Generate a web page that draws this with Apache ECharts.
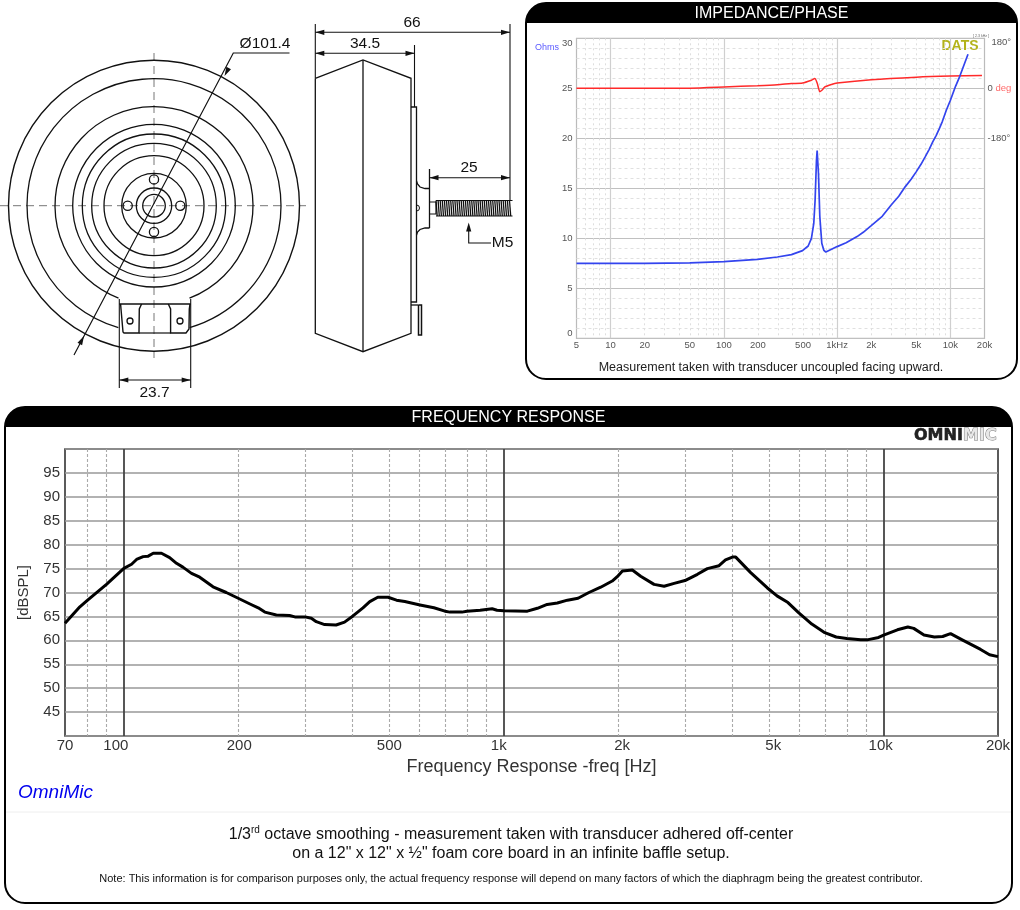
<!DOCTYPE html>
<html><head><meta charset="utf-8">
<style>html,body{margin:0;padding:0;background:#fff}#c{width:1020px;height:910px}</style>
<script src="https://cdn.jsdelivr.net/npm/echarts@6/dist/echarts.min.js"></script>
</head><body><div id="c"></div>
<script>
// ---- Frequency response data
const frFreq=[70,76.6,80,90,100,104.8,108,112.4,115.9,119.5,125.6,132,137.6,143,150.7,158.4,171.7,186,200,214.8,225.8,235,252,273,282,300,311.6,321,337.7,362,381,401,426,444,466,496,522,549,602,655,700,722,776,800,867,932,960,1000,1154,1226,1301,1384,1471,1569,1676,1800,1930,2000,2053,2180,2293,2487,2643,2809,3000,3235,3435,3687,3835,4000,4080,4460,4935,5240,5600,5970,6470,7000,7500,8000,8700,9050,9700,10000,10870,11580,12000,12770,13600,14300,15000,16100,18000,19000,20000];
const frSpl=[63.55,67,68.3,71.7,75.05,75.9,76.9,77.5,77.6,78.2,78.2,77.3,76.1,75.3,74,73.2,71.2,70,68.8,67.6,66.8,65.9,65.3,65.2,64.9,64.9,64.6,63.9,63.3,63.2,63.8,65.1,66.8,68.1,69,69,68.4,68.1,67.4,66.8,66.1,65.9,65.9,66.1,66.3,66.6,66.3,66.2,66.1,66.7,67.5,67.8,68.4,68.8,70,71.1,72.4,73.5,74.5,74.7,73.4,71.7,71.3,71.9,72.5,73.8,75,75.6,76.8,77.4,77.4,74.2,71,69.3,67.9,65.8,63.4,61.6,60.7,60.4,60.1,60.1,60.6,61.1,62.2,62.8,62.5,61.1,60.7,60.8,61.4,60.1,58.1,57,56.6];
const frTicks=[70,100,200,500,1000,2000,5000,10000,20000];
const frTickLabels=['70','100','200','500','1k','2k','5k','10k','20k'];
const frMinorLines=[80,90,200,300,400,500,600,700,800,900,2000,3000,4000,5000,6000,7000,8000,9000];
const frDecades=[100,1000,10000];
// ---- Impedance / phase data
const zFreq=[5,10,20,50,100,198,297,395,495,555,593,622,639,657,666,684,703,732,763,795,1000,1200,1500,1700,2000,2500,3000,3500,4000,4500,5000,5500,6000,6500,7000,7500,8000,8500,9200,10000,11100,12100,14300];
const zOhm=[7.5,7.5,7.5,7.55,7.67,7.9,8.13,8.37,8.77,9.23,10,11.5,13.8,17.8,18.77,16.5,12.2,9.5,8.8,8.63,9.17,9.55,10.17,10.6,11.27,12.2,13.33,14.2,15.17,15.9,16.67,17.4,18.17,18.9,19.67,20.3,21,21.7,22.8,23.8,25.2,26.2,28.4];
const phFreq=[5,20,50,100,198,297,395,495,593,635,666,684,703,742,778,891,1000,2000,5000,10000,19000];
const phDeg=[0,0,0.6,4.8,9.6,13,17,19,29,35,19,2,-12,-5,5,14,19,31,40,44,46];
const zTicks=[5,10,20,50,100,200,500,1000,2000,5000,10000,20000];
const zTickLabels=['5','10','20','50','100','200','500','1kHz','2k','5k','10k','20k'];
const zMinorLines=[6,7,8,9,20,30,40,50,60,70,80,90,200,300,400,500,600,700,800,900,2000,3000,4000,5000,6000,7000,8000,9000];
const zDecades=[10,100,1000,10000];
const phTicks=[180,0,-180];

const FONT='"Liberation Sans",Arial,sans-serif';
const zip=(a,b)=>a.map((v,i)=>[v,b[i]]);
// horizontal nudge of each frequency-response tick label, px
const frLabelShift=[0,-8,1,0,-5,4,4,-3,0];
const frRich={};
frLabelShift.forEach((s,i)=>{frRich['l'+i]={fontFamily:FONT,fontSize:15,color:'#333',padding:s<0?[0,-2*s,0,0]:[0,0,0,2*s]};});

// ---- Line-drawing helpers (illustration and panels, not data)
const g=[];
const INK='#111';
const W0=1.3;
const line=(pts,w,extra)=>g.push({type:'polyline',silent:true,shape:{points:pts},style:Object.assign({stroke:INK,lineWidth:w||W0,fill:null},extra||{})});
const circ=(cx,cy,r,w)=>g.push({type:'circle',silent:true,shape:{cx,cy,r},style:{stroke:INK,lineWidth:w||W0,fill:null}});
const arcGap=(cx,cy,r,gapDeg)=>{const a=gapDeg*Math.PI/180;g.push({type:'arc',silent:true,shape:{cx,cy,r,startAngle:Math.PI/2+a,endAngle:Math.PI*2.5-a,clockwise:true},style:{stroke:INK,lineWidth:W0,fill:null}});};
const arrow=(x,y,dx,dy,len,wd)=>{const L=len||9,W=wd||2.6;g.push({type:'polygon',silent:true,shape:{points:[[x,y],[x-dx*L-dy*W,y-dy*L+dx*W],[x-dx*L+dy*W,y-dy*L-dx*W]]},style:{fill:INK}});};
const txt=(x,y,s,size,extra)=>g.push({type:'text',silent:true,x,y,style:Object.assign({text:s,fontFamily:FONT,fontSize:size,fill:'#111',align:'center',verticalAlign:'middle'},extra||{})});
const dash={lineDash:[8,5],stroke:'#777',lineWidth:1};

// panels
const panel=(x,y,w,h,r,head,title,ty)=>{
  g.push({type:'rect',silent:true,z:-1,shape:{x,y,width:w,height:head,r:[r,r,0,0]},style:{fill:'#000'}});
  g.push({type:'rect',silent:true,shape:{x,y,width:w,height:h,r:r},style:{fill:null,stroke:'#000',lineWidth:2}});
  txt(x+w/2,ty,title,16,{fill:'#fff'});
};
panel(526,3,491,376,20,20,'IMPEDANCE/PHASE',13.5);
panel(5,407,1007,496,20,20,'FREQUENCY RESPONSE',417.5);

// front view
const cx=154,cy=205.7;
line([[0,cy],[306,cy]],1,dash);
line([[cx,53],[cx,358]],1,dash);
circ(cx,cy,145.5,1.4);
arcGap(cx,cy,127,16.3);
arcGap(cx,cy,99,21);
[81.3,71.7,62.3,50,32.3,17.7,11.3].forEach(r=>circ(cx,cy,r));
[[0,-26.3],[0,26.3],[-26.3,0],[26.3,0]].forEach(o=>circ(cx+o[0],cy+o[1],4.6));
// terminals
line([[119.3,299],[119.3,388]],1.1);line([[190.7,299],[190.7,388]],1.1);
line([[119.3,304],[190.7,304]],1.4);
line([[120.6,304],[121,309],[123,332],[124,333],[139,333],[139.3,309],[141.6,304]],1.4);
line([[168.3,304],[170.6,309],[170.6,333],[186,333],[189,329],[189.3,309],[190,304]],1.4);
line([[139,333],[170.6,333]],1.2);
circ(130,321,3);circ(180,321,3);
// diameter leader
line([[289.5,53],[233.3,53],[74,355]],1.2);
arrow(224.5,76,-0.466,0.885);arrow(84,336,0.466,-0.885);
// 23.7
line([[119.3,380],[190.7,380]],1.1);arrow(119.3,380,-1,0);arrow(190.7,380,1,0);
txt(154.5,393,'23.7',15.5);
txt(265,44,'Ø101.4',15.5);

// side view
line([[315.3,78.3],[363,60],[411,78.3],[411,333.3],[363,351.7],[315.3,333.3],[315.3,78.3]],1.3);
line([[363,60],[363,351.7]],1.3);
line([[315.3,24],[315.3,78]],1.1);line([[510,24],[510,200]],1.1);
line([[315.3,32.3],[510,32.3]],1.1);arrow(315.3,32.3,-1,0);arrow(510,32.3,1,0);
txt(412,22.5,'66',15.5);
line([[414.5,45],[414.5,107]],1.1);
line([[315.3,53.3],[414.5,53.3]],1.1);arrow(315.3,53.3,-1,0);arrow(414.5,53.3,1,0);
txt(365,44,'34.5',15.5);
// plate, flange, screw
line([[411,107],[416.5,107],[416.5,302],[411,302]],1.3);
line([[416.5,181],[417.5,184],[420,187],[425,188.5],[429.5,188.5]],1.3);
line([[416.5,235],[417.5,232],[420,229.5],[425,228],[429.5,228]],1.3);
line([[429.5,169],[429.5,228]],1.3);
line([[429.5,202],[436,202],[436,214],[429.5,214]],1.2);
g.push({type:'arc',silent:true,shape:{cx:416.5,cy:208,r:3,startAngle:-Math.PI/2,endAngle:Math.PI/2},style:{stroke:INK,lineWidth:1,fill:null}});
line([[436,200.5],[512.5,200.5]],1);line([[436,216],[512.5,216]],1);
for(let t=436;t<=511;t+=2.1) line([[t,200.5],[t+1.2,216]],1.3);
line([[411,305],[418.5,305]],1.3);line([[418.5,305],[421.5,305],[421.5,335],[418.5,335],[418.5,305]],1.5);
line([[429.5,177.7],[510,177.7]],1.1);arrow(429.5,177.7,-1,0);arrow(510,177.7,1,0);
txt(469,168,'25',15.5);
line([[468.7,226],[468.7,243],[491,243]],1.1);arrow(468.7,222.5,0,-1,9,2.6);
txt(502.5,242.5,'M5',15.5);

// impedance annotations
txt(547,47.5,'Ohms',9,{fill:'#5a5aff'});
txt(960,46.5,'DATS',14,{fill:'#b3b31a',fontWeight:'bold'});
txt(981,35.5,'[ 2.3 kHz ]',3.6,{fill:'#666'});
txt(771,367.8,'Measurement taken with transducer uncoupled facing upward.',12.5,{fill:'#222'});

// frequency response annotations
txt(914,436,'OMNI',16,{align:'left',fontFamily:'"DejaVu Sans",sans-serif',fontWeight:'bold',fill:'#222',stroke:'#222',lineWidth:0.6});
txt(963,436,'MIC',16,{align:'left',fontFamily:'"DejaVu Sans",sans-serif',fontWeight:'bold',fill:'#e8e8e8',stroke:'#777',lineWidth:1});
txt(18,792.5,'OmniMic',19,{align:'left',fontStyle:'italic',fill:'#0000ee'});
line([[6,812],[1011,812]],1,{stroke:'#eee'});
g.push({type:'text',silent:true,x:511,y:835,style:{
  rich:{n:{fontFamily:FONT,fontSize:16,fill:'#111',lineHeight:20},s:{fontFamily:FONT,fontSize:10,fill:'#111',verticalAlign:'top',lineHeight:20}},
  text:'{n|1/3}{s|rd}{n| octave smoothing - measurement taken with transducer adhered off-center}',align:'center',verticalAlign:'middle'}});
txt(511,854,'on a 12" x 12" x ½" foam core board in an infinite baffle setup.',16);
txt(511,879,'Note: This information is for comparison purposes only, the actual frequency response will depend on many factors of which the diaphragm being the greatest contributor.',11);

const hiddenX=(grid,min,max,vals,color,width,type)=>({type:'log',logBase:10,gridIndex:grid,min,max,
  axisLine:{show:false},axisLabel:{show:false},
  axisTick:{show:false,customValues:vals},
  splitLine:{show:true,lineStyle:{color,width,type}},minorSplitLine:{show:false}});

const option={
  animation:false,
  graphic:{elements:g},
  grid:[
    {left:65,top:449,width:933,height:287,show:true,borderColor:'#333',borderWidth:1.6,backgroundColor:'transparent'},
    {left:576.5,top:38.3,width:408,height:300,show:true,borderColor:'#bbb',borderWidth:1.2,backgroundColor:'transparent'}
  ],
  xAxis:[
    Object.assign(hiddenX(0,70,20000,frMinorLines,'#aaa',1.1,[3,2]),{
      name:'Frequency Response -freq [Hz]',nameLocation:'middle',nameGap:22,
      nameTextStyle:{fontFamily:FONT,fontSize:18,color:'#333'},
      axisLabel:{show:true,margin:2,customValues:frTicks,rich:frRich,hideOverlap:false,
        formatter:v=>{const i=frTicks.indexOf(v);return i<0?'':'{l'+i+'|'+frTickLabels[i]+'}';}}}),
    hiddenX(0,70,20000,frDecades,'#444',1.8,'solid'),
    Object.assign(hiddenX(1,5,20000,zMinorLines,'#dedede',1,[2,3]),{
      axisLabel:{show:true,margin:2,customValues:zTicks,hideOverlap:false,fontFamily:FONT,fontSize:9.5,color:'#555',
        formatter:v=>{const i=zTicks.indexOf(v);return i<0?'':zTickLabels[i];}}}),
    hiddenX(1,5,20000,zDecades,'#cfcfcf',1.2,'solid')
  ],
  yAxis:[
    {type:'value',gridIndex:0,min:40,max:100,interval:5,
      name:'[dBSPL]',nameLocation:'middle',nameGap:34,nameTextStyle:{fontFamily:FONT,fontSize:15,color:'#333'},
      axisLine:{show:false},axisTick:{show:false},
      axisLabel:{margin:5,fontFamily:FONT,fontSize:15,color:'#333',formatter:v=>(v===40||v===100)?'':String(v)},
      splitLine:{show:true,lineStyle:{color:'#999',width:1.6}}},
    {type:'value',gridIndex:1,min:0,max:30,interval:5,
      axisLine:{show:false},axisTick:{show:false},
      axisLabel:{margin:4,fontFamily:FONT,fontSize:9.5,color:'#555',verticalAlignMaxLabel:'top',verticalAlignMinLabel:'bottom'},
      splitLine:{show:true,lineStyle:{color:'#c0c0c0',width:1}},
      minorTick:{show:false,splitNumber:5},
      minorSplitLine:{show:true,lineStyle:{color:'#e0e0e0',width:1,type:[3,3]}}},
    {type:'value',gridIndex:1,position:'right',min:-900,max:180,interval:180,
      axisLine:{show:false},axisTick:{show:false},splitLine:{show:false},
      axisLabel:{margin:3,customValues:phTicks,fontFamily:FONT,fontSize:9.5,color:'#555',
        rich:{d:{color:'#ff6a6a',fontFamily:FONT,fontSize:9.5},t:{color:'#555',fontFamily:FONT,fontSize:9.5,padding:[8,0,0,4]},m:{color:'#555',fontFamily:FONT,fontSize:9.5}},
        formatter:v=>v===0?'0 {d|deg}':(v>0?'{t|'+v+'°}':'{m|'+v+'°}')}}
  ],
  series:[
    {name:'SPL',type:'line',xAxisIndex:0,yAxisIndex:0,data:zip(frFreq,frSpl),showSymbol:false,silent:true,z:5,
      lineStyle:{color:'#000',width:3,join:'round'}},
    {name:'Phase',type:'line',xAxisIndex:2,yAxisIndex:2,data:zip(phFreq,phDeg),showSymbol:false,silent:true,z:4,smooth:0.25,
      lineStyle:{color:'#ff2a2a',width:1.5}},
    {name:'Impedance',type:'line',xAxisIndex:2,yAxisIndex:1,data:zip(zFreq,zOhm),showSymbol:false,silent:true,z:5,
      lineStyle:{color:'#3344ee',width:1.7}}
  ]
};
const chart=echarts.init(document.getElementById('c'),null,{renderer:'canvas',width:1020,height:910});
chart.setOption(option);
</script></body></html>
